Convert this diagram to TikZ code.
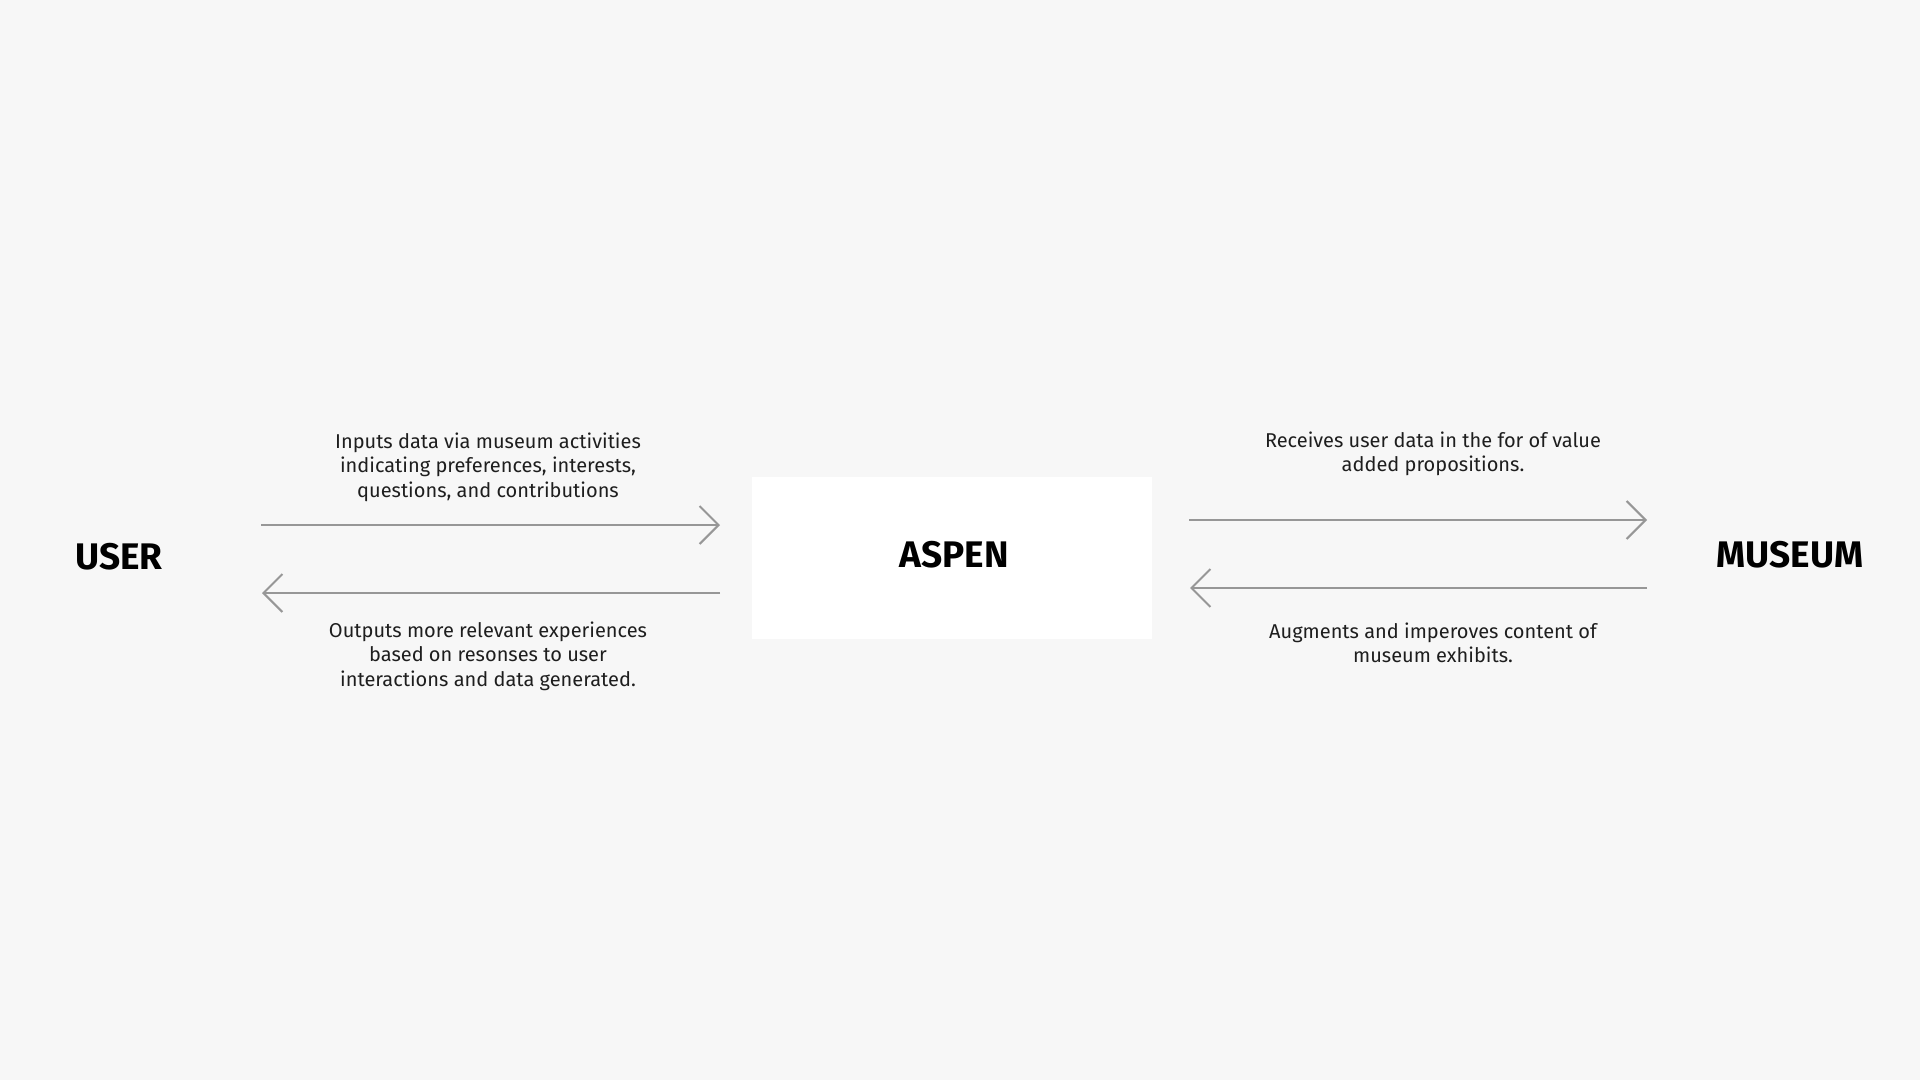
\documentclass[tikz,border=0pt]{standalone}
\usepackage{fontspec}
\setmainfont{Fira Sans}
\usetikzlibrary{arrows.meta}
\definecolor{bgc}{HTML}{F7F7F7}
\definecolor{arrc}{HTML}{979797}
\definecolor{txtc}{HTML}{1E1E1E}
\tikzset{
  heading/.style={font=\fontsize{37}{40}\selectfont\bfseries, text=black, inner sep=0pt},
  desc/.style={font=\fontsize{20}{24.5}\selectfont, text=txtc, align=center, inner sep=0pt},
  flow/.style={draw=arrc, line width=2pt, -{Straight Barb[length=19pt,width=38pt,line width=2pt]}},
  boxc/.style={fill=white, draw=none, minimum width=400pt, minimum height=162pt, inner sep=0pt}
}
\begin{document}
\begin{tikzpicture}[x=1pt,y=-1pt]
\useasboundingbox (0,0) rectangle (1920,1080);
\fill[bgc] (0,0) rectangle (1920,1080);
% nodes
\node[boxc] (aspenbox) at (952,557.5) {};
\node[heading] (aspen) at (954,555) {ASPEN};
\node[heading] (user) at (119,557) {USER};
\node[heading] (museum) at (1790,555) {MUSEUM};
% arrow end points
\coordinate (a1s) at (261,525);
\coordinate (a1e) at (720,525);
\coordinate (a2s) at (720,593);
\coordinate (a2e) at (262,593);
\coordinate (b1s) at (1189,520);
\coordinate (b1e) at (1647,520);
\coordinate (b2s) at (1647,588);
\coordinate (b2e) at (1190,588);
\draw[flow] (a1s) -- (a1e);
\draw[flow] (a2s) -- (a2e);
\draw[flow] (b1s) -- (b1e);
\draw[flow] (b2s) -- (b2e);
% labels
\node[desc] (l1) at (488,467) {Inputs data via museum activities\\indicating preferences, interests,\\questions, and contributions};
\node[desc] (l2) at (488,656) {Outputs more relevant experiences\\based on resonses to user\\interactions and data generated.};
\node[desc] (r1) at (1433,454) {Receives user data in the for of value\\added propositions.};
\node[desc] (r2) at (1433,643) {Augments and imperoves content of\\museum exhibits.};
\end{tikzpicture}
\end{document}
